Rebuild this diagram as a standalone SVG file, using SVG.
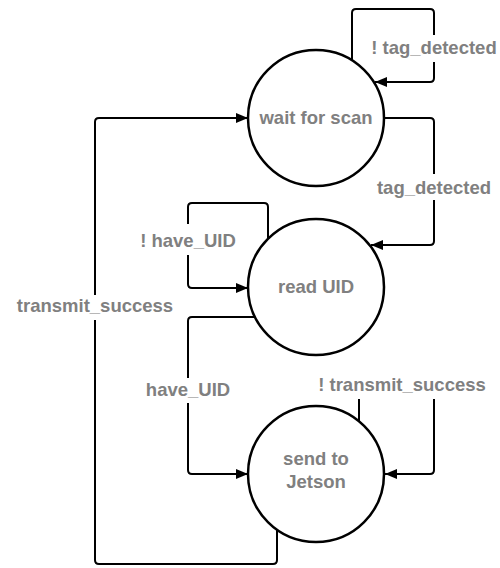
<svg xmlns="http://www.w3.org/2000/svg" width="500" height="568" viewBox="0 0 500 568">
<defs>
<marker id="arr" markerUnits="userSpaceOnUse" markerWidth="13" markerHeight="11" refX="12" refY="5" orient="auto">
<path d="M0,0 L12,5 L0,10 z" fill="#000"/>
</marker>
<style>
.state{fill:#fff;stroke:#000;stroke-width:2.5}
.edge{fill:none;stroke:#000;stroke-width:2}
.lbl{font-family:"Liberation Sans",Arial,sans-serif;font-weight:bold;font-size:18.5px;fill:#808080;text-anchor:middle}
.bg{fill:#fff}
</style>
</defs>
<rect width="500" height="568" fill="#fff"/>
<g id="connectors">
<path class="edge" marker-end="url(#arr)" d="M352,60 V13 Q352,9 356,9 H430 Q434,9 434,13 V78 Q434,82 430,82 H375"/>
<path class="edge" marker-end="url(#arr)" d="M384,118 H430 Q434,118 434,122 V241 Q434,245 430,245 H371"/>
<path class="edge" marker-end="url(#arr)" d="M268,239 V207 Q268,203 264,203 H192 Q188,203 188,207 V284 Q188,288 192,288 H248"/>
<path class="edge" marker-end="url(#arr)" d="M255,317 H192 Q188,317 188,321 V470 Q188,474 192,474 H248"/>
<path class="edge" marker-end="url(#arr)" d="M359,421 V389 Q359,385 363,385 H430 Q434,385 434,389 V470 Q434,474 430,474 H385"/>
<path class="edge" marker-end="url(#arr)" d="M277,530 V560 Q277,564 273,564 H99 Q95,564 95,560 V122 Q95,118 99,118 H248"/>
<g id="edge-labels">
<rect class="bg" x="368" y="35" width="131" height="27"/>
<text class="lbl" x="434" y="54">! tag_detected</text>
<rect class="bg" x="374" y="174" width="120" height="26"/>
<text class="lbl" x="434" y="194">tag_detected</text>
<rect class="bg" x="138" y="224" width="100" height="31"/>
<text class="lbl" x="188" y="247">! have_UID</text>
<rect class="bg" x="12" y="295" width="166" height="25"/>
<text class="lbl" x="95" y="312">transmit_success</text>
<rect class="bg" x="143" y="378" width="90" height="25"/>
<text class="lbl" x="188" y="396">have_UID</text>
<rect class="bg" x="314" y="371" width="176" height="28"/>
<text class="lbl" x="402" y="391">! transmit_success</text>
</g>
</g>
<g id="wait-for-scan">
<circle class="state" cx="316" cy="118" r="68"/>
<text class="lbl" x="316" y="124">wait for scan</text>
</g>
<g id="read-uid">
<circle class="state" cx="316" cy="287" r="68"/>
<text class="lbl" x="316" y="293">read UID</text>
</g>
<g id="send-to-jetson">
<circle class="state" cx="316" cy="474" r="68"/>
<text class="lbl" x="316" y="465">send to</text>
<text class="lbl" x="316" y="488">Jetson</text>
</g>
</svg>
